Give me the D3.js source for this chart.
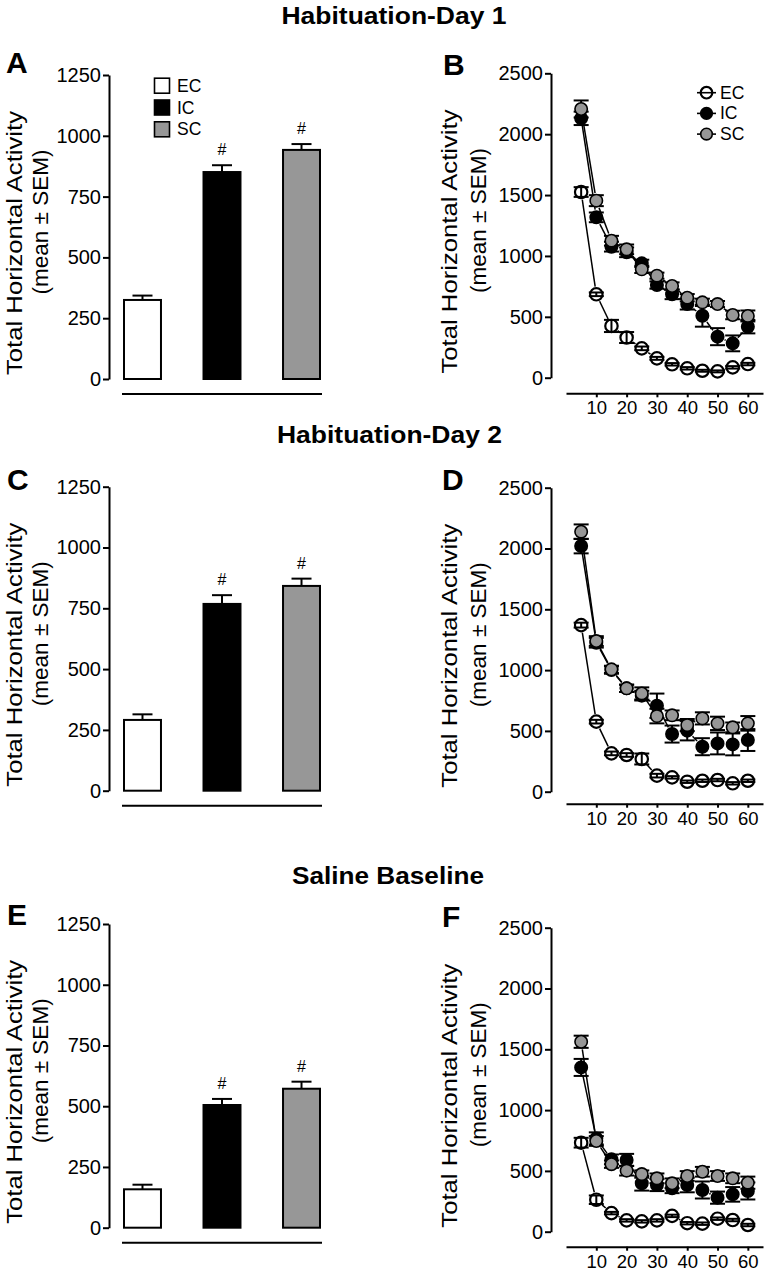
<!DOCTYPE html>
<html><head><meta charset="utf-8">
<script src="https://cdn.jsdelivr.net/npm/d3@7"></script>
<style>body{margin:0;background:#fff;} svg{display:block;font-family:"Liberation Sans",Arial,Helvetica,sans-serif;}</style>
</head><body><svg id="c" width="769" height="1275"></svg>
<script>
// ---------- data ----------
const groups = ["EC", "IC", "SC"];
const times = [5, 10, 15, 20, 25, 30, 35, 40, 45, 50, 55, 60];
const timeTicks = [10, 20, 30, 40, 50, 60];
const barTicks = [0, 250, 500, 750, 1000, 1250];
const lineTicks = [0, 500, 1000, 1500, 2000, 2500];
const sectionTitles = ["Habituation-Day 1", "Habituation-Day 2", "Saline Baseline"];
const panelLetters = ["A", "B", "C", "D", "E", "F"];
const yTitle1 = "Total Horizontal Activity";
const yTitle2 = "(mean \u00b1 SEM)";
const sigMark = "#";

// bar panels (total activity)
const day1BarMean = [325, 851, 942];
const day1BarSem = [18, 28, 24];
const day2BarMean = [291, 768, 842];
const day2BarSem = [23, 36, 30];
const salineBarMean = [158, 505, 572];
const salineBarSem = [19, 25, 29];
const barSig = [false, true, true];

// time course panels
const day1EC = [1525, 685, 425, 330, 241, 159, 110, 77, 57, 52, 85, 112];
const day1ECsem = [40, 15, 50, 45, 15, 12, 10, 10, 8, 8, 10, 10];
const day1IC = [2130, 1317, 1076, 1030, 939, 761, 685, 605, 509, 337, 282, 419];
const day1ICsem = [55, 40, 40, 40, 30, 30, 40, 45, 90, 70, 65, 55];
const day1SC = [2207, 1454, 1125, 1054, 890, 838, 753, 657, 619, 605, 515, 507];
const day1SCsem = [70, 45, 40, 40, 30, 25, 30, 30, 30, 25, 35, 45];

const day2EC = [1370, 576, 315, 302, 269, 132, 118, 82, 90, 96, 69, 90];
const day2ECsem = [20, 15, 15, 15, 45, 15, 10, 10, 10, 10, 10, 10];
const day2IC = [2020, 1225, 1000, 850, 790, 707, 474, 502, 370, 397, 389, 425];
const day2ICsem = [60, 40, 30, 30, 40, 100, 70, 80, 70, 90, 90, 90];
const day2SC = [2138, 1239, 1006, 850, 808, 622, 628, 548, 603, 562, 529, 562];
const day2SCsem = [60, 40, 30, 30, 50, 60, 40, 50, 50, 55, 40, 60];

const salineEC = [732, 263, 153, 93, 85, 93, 130, 70, 66, 107, 96, 55];
const salineECsem = [40, 35, 10, 10, 10, 10, 10, 10, 10, 10, 10, 10];
const salineIC = [1351, 767, 595, 590, 398, 384, 357, 384, 343, 280, 307, 335];
const salineICsem = [70, 50, 40, 50, 60, 50, 40, 60, 70, 50, 60, 70];
const salineSC = [1562, 746, 555, 502, 474, 439, 398, 458, 493, 458, 439, 403];
const salineSCsem = [50, 40, 30, 40, 30, 40, 40, 40, 40, 40, 40, 50];

// ---------- styles ----------
const fills = { EC: "#ffffff", IC: "#000000", SC: "#979797" };
const svg = d3.select("#c");
svg.append("rect").attr("width", 769).attr("height", 1275).attr("fill", "#fff");
const fmt = d3.format("d");

// section titles
const titleLayout = [{ x: 394, y: 23.5 }, { x: 389.5, y: 442.7 }, { x: 388, y: 884 }];
sectionTitles.forEach((t, i) => {
  svg.append("text").attr("x", titleLayout[i].x).attr("y", titleLayout[i].y)
    .attr("text-anchor", "middle").attr("font-weight", "bold").attr("font-size", 24)
    .attr("textLength", i === 2 ? 192 : 225).attr("lengthAdjust", "spacingAndGlyphs")
    .text(t);
});

function yTitles(g, axisX, yMid, off1, off2) {
  g.append("text").attr("transform", `translate(${axisX + off1},${yMid + 16}) rotate(-90)`)
    .attr("text-anchor", "middle").attr("font-size", 21.5)
    .attr("textLength", 264).attr("lengthAdjust", "spacingAndGlyphs").text(yTitle1);
  g.append("text").attr("transform", `translate(${axisX + off2},${yMid - 5}) rotate(-90)`)
    .attr("text-anchor", "middle").attr("font-size", 21.5)
    .attr("textLength", 145).attr("lengthAdjust", "spacingAndGlyphs").text(yTitle2);
}

function styleAxis(a) {
  a.selectAll("path.domain").attr("stroke", "#000").attr("stroke-width", 2);
  a.selectAll(".tick line").attr("stroke", "#000").attr("stroke-width", 2);
  a.selectAll(".tick text").attr("fill", "#000").attr("font-family", "Liberation Sans, Arial, sans-serif");
}

function barPanel(letter, letterPos, y0, y1, means, sems, showLegend) {
  const g = svg.append("g");
  const axisX = 109;
  const y = d3.scaleLinear().domain([0, 1250]).range([y0, y1]);
  const x = d3.scaleBand().domain(groups).range([124, 320]).paddingInner(0.535).paddingOuter(0);

  const ax = g.append("g").attr("transform", `translate(${axisX},0)`)
    .call(d3.axisLeft(y).tickValues(barTicks).tickFormat(fmt).tickSize(6).tickSizeOuter(0).tickPadding(2));
  styleAxis(ax);
  ax.selectAll(".tick text").attr("font-size", 20);

  // base line under bars
  g.append("line").attr("x1", x.range()[0] - 2).attr("x2", x.range()[1] + 2)
    .attr("y1", y(0) + 15).attr("y2", y(0) + 15).attr("stroke", "#000").attr("stroke-width", 2);

  const data = groups.map((k, i) => ({ k, m: means[i], s: sems[i], sig: barSig[i] }));
  data.forEach(d => {
    const cx = x(d.k) + x.bandwidth() / 2;
    g.append("line").attr("x1", cx).attr("x2", cx).attr("y1", y(d.m)).attr("y2", y(d.m + d.s))
      .attr("stroke", "#000").attr("stroke-width", 2);
    g.append("line").attr("x1", cx - 10).attr("x2", cx + 10).attr("y1", y(d.m + d.s)).attr("y2", y(d.m + d.s))
      .attr("stroke", "#000").attr("stroke-width", 2);
    if (d.sig) {
      g.append("text").attr("x", cx).attr("y", y(d.m + d.s) - 10).attr("text-anchor", "middle")
        .attr("font-size", 16).text(sigMark);
    }
  });
  g.selectAll("rect.bar").data(data).enter().append("rect").attr("class", "bar")
    .attr("x", d => x(d.k)).attr("width", x.bandwidth())
    .attr("y", d => y(d.m)).attr("height", d => y(0) - y(d.m))
    .attr("fill", d => fills[d.k]).attr("stroke", "#000").attr("stroke-width", 2);

  yTitles(g, axisX, (y0 + y1) / 2, -87, -61.5);
  g.append("text").attr("x", letterPos[0]).attr("y", letterPos[1]).attr("font-weight", "bold")
    .attr("font-size", 30).text(letter);

  if (showLegend) {
    groups.forEach((k, i) => {
      const cy = 85.7 + i * 21.8;
      g.append("rect").attr("x", 154.5).attr("y", cy - 7.5).attr("width", 15).attr("height", 15)
        .attr("fill", fills[k]).attr("stroke", "#000").attr("stroke-width", 1.6);
      g.append("text").attr("x", 177).attr("y", cy + 6).attr("font-size", 17.5).text(k);
    });
  }
}

function linePanel(letter, letterPos, y0, y1, xAxisOff, series, showLegend) {
  const g = svg.append("g");
  const axisX = 551;
  const y = d3.scaleLinear().domain([0, 2500]).range([y0, y1]);
  const x = d3.scaleLinear().domain([0, 65]).range([566, 763]);
  const r = 6.2;

  const ax = g.append("g").attr("transform", `translate(${axisX},0)`)
    .call(d3.axisLeft(y).tickValues(lineTicks).tickFormat(fmt).tickSize(6).tickSizeOuter(0).tickPadding(2));
  styleAxis(ax);
  ax.selectAll(".tick text").attr("font-size", 20);

  const bx = g.append("g").attr("transform", `translate(0,${y0 + xAxisOff})`)
    .call(d3.axisBottom(x).tickValues(timeTicks).tickFormat(fmt).tickSize(4).tickSizeOuter(0).tickPadding(4));
  styleAxis(bx);
  bx.selectAll(".tick text").attr("font-size", 18.5);

  series.forEach(s => {
    const pts = times.map((t, i) => ({ px: x(t), py: y(s.v[i]), v: s.v[i], e: s.e[i] }));
    const sg = g.append("g");
    for (let i = 0; i < pts.length - 1; i++) {
      const a = pts[i], b = pts[i + 1];
      const dx = b.px - a.px, dy = b.py - a.py, L = Math.hypot(dx, dy);
      const gap = r + 1.5;
      if (L > 2 * gap + 1) {
        const ux = dx / L, uy = dy / L;
        sg.append("line").attr("x1", a.px + ux * gap).attr("y1", a.py + uy * gap)
          .attr("x2", b.px - ux * gap).attr("y2", b.py - uy * gap)
          .attr("stroke", "#000").attr("stroke-width", 1.5);
      }
    }
    const drawErr = () => pts.forEach(p => {
      const yt = y(p.v + p.e), yb = y(p.v - p.e);
      sg.append("line").attr("x1", p.px).attr("x2", p.px).attr("y1", yt).attr("y2", yb)
        .attr("stroke", "#000").attr("stroke-width", 2);
      [yt, yb].forEach(yy => sg.append("line").attr("x1", p.px - 7.5).attr("x2", p.px + 7.5)
        .attr("y1", yy).attr("y2", yy).attr("stroke", "#000").attr("stroke-width", 2));
    });
    if (s.k !== "EC") drawErr();
    sg.selectAll("circle").data(pts).enter().append("circle")
      .attr("cx", p => p.px).attr("cy", p => p.py).attr("r", r)
      .attr("fill", s.k === "EC" ? "#fff" : fills[s.k]).attr("stroke", "#000")
      .attr("stroke-width", s.k === "EC" ? 2.2 : 1.6);
    if (s.k === "EC") drawErr();
  });

  yTitles(g, axisX, (y0 + y1) / 2, -94, -65);
  g.append("text").attr("x", letterPos[0]).attr("y", letterPos[1]).attr("font-weight", "bold")
    .attr("font-size", 30).text(letter);

  if (showLegend) {
    groups.forEach((k, i) => {
      const cy = 92.7 + i * 20.7;
      g.append("line").attr("x1", 697).attr("x2", 716).attr("y1", cy).attr("y2", cy)
        .attr("stroke", "#000").attr("stroke-width", 1.6);
      g.append("circle").attr("cx", 706.5).attr("cy", cy).attr("r", 5.8)
        .attr("fill", k === "EC" ? "none" : fills[k]).attr("stroke", "#000")
        .attr("stroke-width", k === "EC" ? 2.2 : 1.6);
      g.append("text").attr("x", 720).attr("y", cy + 6).attr("font-size", 17.5).text(k);
    });
  }
}

barPanel(panelLetters[0], [6, 73], 379, 75, day1BarMean, day1BarSem, true);
barPanel(panelLetters[2], [7, 490], 790.7, 486.7, day2BarMean, day2BarSem, false);
barPanel(panelLetters[4], [7, 925], 1227.7, 924, salineBarMean, salineBarSem, false);

linePanel(panelLetters[1], [443, 75], 377.7, 73.3, 15.6, [
  { k: "EC", v: day1EC, e: day1ECsem }, { k: "IC", v: day1IC, e: day1ICsem }, { k: "SC", v: day1SC, e: day1SCsem }], true);
linePanel(panelLetters[3], [442, 490], 791.7, 487.7, 12, [
  { k: "EC", v: day2EC, e: day2ECsem }, { k: "IC", v: day2IC, e: day2ICsem }, { k: "SC", v: day2SC, e: day2SCsem }], false);
linePanel(panelLetters[5], [442, 926.5], 1231.7, 927.7, 15, [
  { k: "EC", v: salineEC, e: salineECsem }, { k: "IC", v: salineIC, e: salineICsem }, { k: "SC", v: salineSC, e: salineSCsem }], false);
</script>
</body></html>
